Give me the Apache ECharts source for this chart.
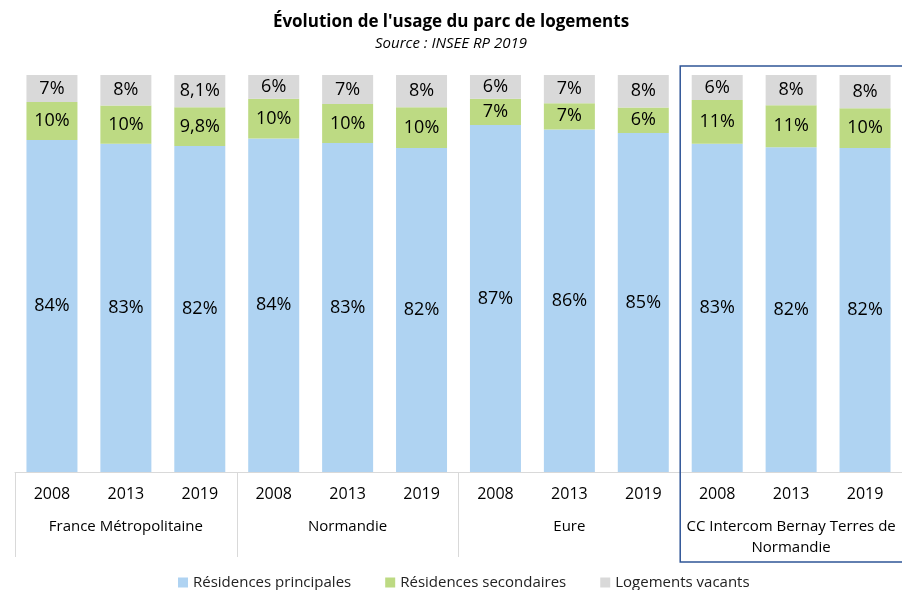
<!DOCTYPE html>
<html><head><meta charset="utf-8">
<script src="https://cdn.jsdelivr.net/npm/echarts@6/dist/echarts.min.js"></script>
<style>html,body{margin:0;padding:0;background:#fff}#c{width:902px;height:590px}</style>
</head><body><div id="c"></div>
<script>
const years = ['2008','2013','2019','2008','2013','2019','2008','2013','2019','2008','2013','2019'];
const groups = ['France Métropolitaine','Normandie','Eure','CC Intercom Bernay Terres de\nNormandie'];
const principales = [83.6,82.7,82.1,84.0,82.9,81.6,87.4,86.3,85.4,82.7,81.8,81.6];
const secondaires = [9.6,9.6,9.8,10.0,9.8,10.3,6.6,6.6,6.4,11.0,10.6,10.0];
const vacants = [6.8,7.7,8.1,6.0,7.3,8.1,6.0,7.1,8.2,6.3,7.6,8.4];
// decimals shown in labels for secondary residences and vacant dwellings
const decimalsSec = [0,0,1,0,0,0,0,0,0,0,0,0];
const decimalsVac = [0,0,1,0,0,0,0,0,0,0,0,0];
const seriesNames = ['Résidences principales','Résidences secondaires','Logements vacants'];
const colors = ['#afd3f2','#bdda83','#d9d9d9'];

const FONT = 'Open Sans';
const chart = echarts.init(document.getElementById('c'));
function mkFmt(dec){
  return function(p){
    const d = dec ? dec[p.dataIndex] : 0;
    return p.value.toFixed(d).replace('.', ',') + '%';
  };
}
function mk(name, data, color, dec){
  return {
    name, type:'bar', stack:'s', data, xAxisIndex:0,
    barCategoryGap:'31%',
    itemStyle:{color},
    label:{show:true, position:'inside', formatter:mkFmt(dec), color:'#000', fontSize:18, fontFamily:FONT}
  };
}
chart.setOption({
  animation:false,
  title:{
    text:"Évolution de l'usage du parc de logements",
    subtext:'Source : INSEE RP 2019',
    left:'center', top:9, itemGap:5,
    textStyle:{fontSize:17, fontWeight:'bold', color:'#000', fontFamily:FONT},
    subtextStyle:{fontSize:15, fontStyle:'italic', color:'#000', fontFamily:FONT}
  },
  legend:{
    left:173, top:570, itemWidth:10, itemHeight:10, itemGap:34,
    icon:'rect',
    textStyle:{fontSize:15, color:'#222', fontFamily:FONT},
    data:seriesNames
  },
  grid:{left:15, right:0, top:75, bottom:118},
  xAxis:[
    {type:'category', data:years, position:'bottom',
     axisLine:{show:true, lineStyle:{color:'#d9d9d9', width:1}},
     axisTick:{show:false},
     axisLabel:{interval:0, margin:14, fontSize:16, color:'#000', fontFamily:FONT}},
    {type:'category', data:groups, position:'bottom',
     axisLine:{show:false},
     axisTick:{show:true, interval:0, length:85, lineStyle:{color:'#d9d9d9'}},
     axisLabel:{interval:0, margin:44, fontSize:15, color:'#000', fontFamily:FONT, lineHeight:21, verticalAlign:'top'}}
  ],
  yAxis:{type:'value', min:0, max:100, show:false},
  series:[
    mk(seriesNames[0], principales, colors[0], null),
    mk(seriesNames[1], secondaires, colors[1], decimalsSec),
    mk(seriesNames[2], vacants, colors[2], decimalsVac)
  ]
});
// blue frame around last group
const x0 = chart.convertToPixel({xAxisIndex:0}, 9) - 37;
chart.setOption({graphic:[{type:'rect', shape:{x:x0, y:66, width:902-x0+2, height:496},
  style:{fill:'none', stroke:'#2f5597', lineWidth:1.5}, z:100}]});
</script></body></html>
